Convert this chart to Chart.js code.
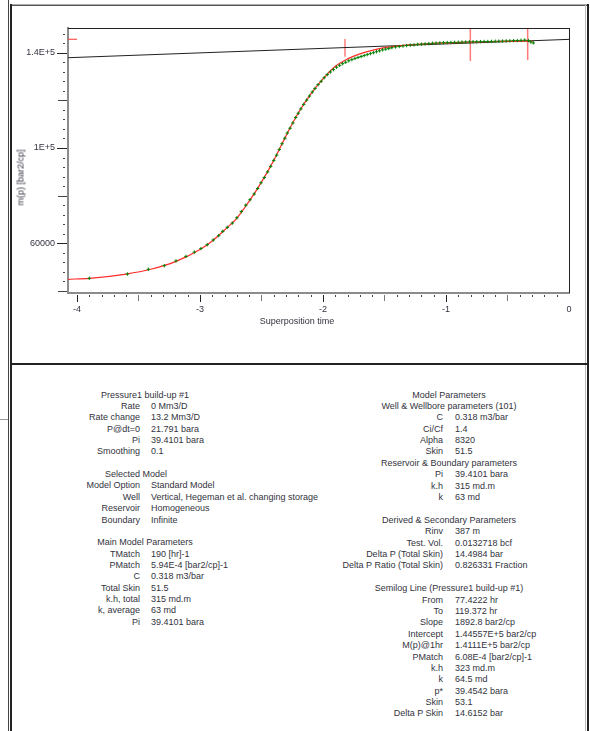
<!DOCTYPE html>
<html><head><meta charset="utf-8">
<script src="https://cdn.jsdelivr.net/npm/chart.js@4"></script>
<style>
html,body{margin:0;padding:0;background:#fff;width:590px;height:731px;overflow:hidden;font-family:"Liberation Sans",Arial,sans-serif;}
.ln{position:absolute;}
#cv{position:absolute;left:0;top:0;}
.t{position:absolute;font-size:9px;color:#333340;white-space:nowrap;line-height:11px;}
</style></head><body>
<div class="ln" style="left:8px;top:0;width:1px;height:731px;background:#444"></div>
<div class="ln" style="left:0;top:419px;width:8px;height:1px;background:#999"></div>
<div class="ln" style="left:10px;top:4px;width:579px;height:1px;background:#aaa"></div>
<div class="ln" style="left:10px;top:5px;width:579px;height:1px;background:#555"></div>
<div class="ln" style="left:10px;top:4px;width:2px;height:727px;background:#222"></div>
<div class="ln" style="left:585px;top:5px;width:1px;height:726px;background:#bbb"></div>
<div class="ln" style="left:587px;top:4px;width:2px;height:727px;background:#222"></div>
<div class="ln" style="left:10px;top:363px;width:579px;height:2px;background:#222"></div>
<canvas id="cv" width="590" height="365"></canvas>
<div id="txt"></div>
<script>
// ---- data ----
const measTime = [-3.90,-3.59,-3.42,-3.29,-3.195,-3.114,-3.046,-2.992,-2.941,-2.892,-2.848,-2.815,-2.778,-2.737,-2.70,-2.664,-2.628,-2.593,-2.559,-2.531,-2.504,-2.477,-2.450,-2.425,-2.40,-2.377,-2.355,-2.333,-2.31,-2.29,-2.268,-2.245,-2.222,-2.201,-2.18,-2.157,-2.133,-2.11,-2.087,-2.065,-2.04,-2.015,-1.99,-1.965,-1.94,-1.915,-1.89,-1.865,-1.84,-1.815,-1.79,-1.765,-1.74,-1.715,-1.69,-1.665,-1.64,-1.615,-1.59,-1.565,-1.54,-1.515,-1.49,-1.465,-1.44,-1.41,-1.38,-1.35,-1.32,-1.29,-1.26,-1.23,-1.20,-1.17,-1.14,-1.11,-1.08,-1.05,-1.02,-0.99,-0.96,-0.93,-0.90,-0.87,-0.84,-0.81,-0.78,-0.75,-0.72,-0.69,-0.66,-0.63,-0.60,-0.57,-0.54,-0.51,-0.48,-0.45,-0.42,-0.39,-0.36,-0.33,-0.31,-0.29];
const measMp = [45300,47100,49100,50600,52600,54500,56300,57800,59400,61400,63200,65000,66700,68500,70700,73300,76000,78300,80700,83000,85400,87600,90000,92300,94800,97000,99400,101800,104100,106300,108300,110500,112800,114600,116400,118300,120100,121800,123500,125000,126600,128000,129500,130800,131900,132900,133900,134700,135400,136000,136600,137100,137600,138000,138400,138800,139200,139600,140000,140400,140800,141200,141500,141800,142100,142400,142600,142800,143000,143200,143300,143500,143600,143700,143800,143950,144000,144100,144200,144250,144300,144350,144400,144450,144500,144550,144600,144600,144650,144700,144700,144750,144800,144850,144900,144950,145000,145050,145100,145200,145300,145100,144500,144100];
const modelTime = [-4.073,-3.9,-3.6,-3.4,-3.2,-3.0,-2.9,-2.8,-2.7,-2.6,-2.5,-2.4,-2.3,-2.2,-2.1,-2.0,-1.9,-1.8,-1.7,-1.6,-1.5,-1.4,-1.2,-1.0,-0.8,-0.6,-0.4,-0.29];
const modelMp = [44900,45300,47100,49100,52300,57400,61000,65600,70600,77700,85700,94800,105200,114800,122600,129000,134300,137400,139500,141000,142100,142800,143600,144100,144400,144700,144900,144800];
const semilogTime = [-4.073, 0];
const semilogMp = [137900, 145600];
const markerTime = [-1.821, -0.802, -0.336];
const markerLow = [138300, 136500, 136900];
const markerHigh = [145800, 150370, 150370];
const levelTime = [-4.073, -4.0];
const levelMp = [145650, 145650];
const xTicks = [-4, -3, -2, -1, 0];
const yTicks = [60000, 100000, 140000];
const yTickLabels = ['60000', '1E+5', '1.4E+5'];
const xRange = [-4.073, 0];
const yRange = [39140, 150370];

const FONT = '"Liberation Sans", Arial, sans-serif';
const TXT = '#333340';

const pts = (xs, ys) => xs.map((x, i) => ({x, y: ys[i]}));
const datasets = [
  {data: pts(measTime, measMp), showLine:false, pointStyle:'cross', pointRadius:1.7, borderWidth:1, borderColor:'rgb(0,128,0)', backgroundColor:'rgb(0,128,0)', order:0},
  {data: pts(modelTime, modelMp), showLine:true, pointRadius:0, borderColor:'#ff2a2a', borderWidth:1.2, cubicInterpolationMode:'monotone', order:1},
  {data: pts(semilogTime, semilogMp), showLine:true, pointRadius:0, borderColor:'#222', borderWidth:1, order:2},
  {data: pts(levelTime, levelMp), showLine:true, pointRadius:0, borderColor:'#ff3030', borderWidth:1, order:3}
];
markerTime.forEach((t, i) => datasets.push({data:[{x:t,y:markerLow[i]},{x:t,y:markerHigh[i]}], showLine:true, pointRadius:0, borderColor:'rgba(255,90,90,0.8)', borderWidth:1.5, order:3}));

const tickPlugin = {
  id:'ticks',
  afterDraw(chart){
    const c = chart.ctx, a = chart.chartArea, xs = chart.scales.x, ys = chart.scales.y;
    c.save();
    c.strokeStyle = '#222'; c.lineWidth = 1;
    c.beginPath();
    c.moveTo(a.left, a.top + 0.5); c.lineTo(a.right + 0.5, a.top + 0.5);
    c.moveTo(a.right + 0.5, a.top); c.lineTo(a.right + 0.5, a.bottom);
    c.stroke();
    for (let v = 40000; v <= 148000; v += 4000) {
      const y = Math.round(ys.getPixelForValue(v)) + 0.5;
      let x0, x1, col = '#444';
      if (yTicks.includes(v)) { x0 = a.left - 11; x1 = a.left - 1; col = '#222'; }
      else if (v % 40000 === 0) { x0 = a.left - 10; x1 = a.left - 1; }
      else { x0 = a.left - 5; x1 = a.left - 3; }
      c.strokeStyle = col; c.beginPath(); c.moveTo(x0, y); c.lineTo(x1, y); c.stroke();
    }
    for (let k = -40; k <= -1; k++) {
      const v = k / 10;
      const x = Math.round(xs.getPixelForValue(v)) + 0.5;
      let len = 2, col = '#444';
      if (k % 10 === 0) { len = 7; col = '#222'; }
      else if (k % 5 === 0) { len = 6; col = '#777'; }
      c.strokeStyle = col; c.beginPath(); c.moveTo(x, a.bottom + 2); c.lineTo(x, a.bottom + 2 + len); c.stroke();
    }
    c.restore();
  }
};

new Chart(document.getElementById('cv'), {
  type:'scatter',
  data:{datasets},
  options:{
    responsive:false, animation:false, devicePixelRatio:1,
    layout:{padding:{left:0, top:28, right:21, bottom:0}},
    plugins:{legend:{display:false}, tooltip:{enabled:false}},
    scales:{
      x:{type:'linear', min:xRange[0], max:xRange[1],
         afterFit:s=>{s.height = 72;},
         afterBuildTicks:s=>{s.ticks = xTicks.map(v=>({value:v}));},
         grid:{display:false, drawTicks:false, tickLength:0},
         border:{display:true, color:'#8c8c8c', width:2},
         ticks:{autoSkip:false, maxRotation:0, padding:11, color:TXT, font:{family:FONT, size:9}, callback:v=>String(v)}},
      y:{type:'linear', min:yRange[0], max:yRange[1],
         afterFit:s=>{s.width = 68;},
         afterBuildTicks:s=>{s.ticks = yTicks.map(v=>({value:v}));},
         grid:{display:false, drawTicks:false, tickLength:0},
         border:{display:true, color:'#8c8c8c', width:2},
         ticks:{autoSkip:false, padding:13, color:TXT, font:{family:FONT, size:9}, callback:v=>yTickLabels[yTicks.indexOf(v)]}}
    }
  },
  plugins:[tickPlugin]
});

// ---- text panels ----
const leftRows = [
  ['#H','Pressure1 build-up #1',145],
  ['Rate','0 Mm3/D'],['Rate change','13.2 Mm3/D'],['P@dt=0','21.791 bara'],['Pi','39.4101 bara'],['Smoothing','0.1'],
  null,
  ['#H','Selected Model',136],
  ['Model Option','Standard Model'],['Well','Vertical, Hegeman et al. changing storage'],['Reservoir','Homogeneous'],['Boundary','Infinite'],
  null,
  ['#H','Main Model Parameters',145],
  ['TMatch','190 [hr]-1'],['PMatch','5.94E-4 [bar2/cp]-1'],['C','0.318 m3/bar'],['Total Skin','51.5'],['k.h, total','315 md.m'],['k, average','63 md'],['Pi','39.4101 bara']
];
const rightRows = [
  ['#H','Model Parameters',449],
  ['#H','Well & Wellbore parameters (101)',449],
  ['C','0.318 m3/bar'],['Ci/Cf','1.4'],['Alpha','8320'],['Skin','51.5'],
  ['#H','Reservoir & Boundary parameters',449],
  ['Pi','39.4101 bara'],['k.h','315 md.m'],['k','63 md'],
  null,
  ['#H','Derived & Secondary Parameters',449],
  ['Rinv','387 m'],['Test. Vol.','0.0132718 bcf'],['Delta P (Total Skin)','14.4984 bar'],['Delta P Ratio (Total Skin)','0.826331 Fraction'],
  null,
  ['#H','Semilog Line (Pressure1 build-up #1)',449],
  ['From','77.4222 hr'],['To','119.372 hr'],['Slope','1892.8 bar2/cp'],['Intercept','1.44557E+5 bar2/cp'],['M(p)@1hr','1.4111E+5 bar2/cp'],
  ['PMatch','6.08E-4 [bar2/cp]-1'],['k.h','323 md.m'],['k','64.5 md'],['p*','39.4542 bara'],['Skin','53.1'],['Delta P Skin','14.6152 bar']
];
const host = document.getElementById('txt');
function addSpan(text, style){ const s=document.createElement('div'); s.className='t'; s.textContent=text; s.setAttribute('style', style); host.appendChild(s); }
function panel(rows, labelRight, valueLeft, top0, step){
  rows.forEach((r,i)=>{
    if(!r) return;
    const top = (top0 + i*step).toFixed(1);
    if(r[0]==='#H'){ addSpan(r[1], `left:${r[2]-150}px;width:300px;text-align:center;top:${top}px`); }
    else {
      addSpan(r[0], `left:${labelRight-200}px;width:200px;text-align:right;top:${top}px`);
      addSpan(r[1], `left:${valueLeft}px;top:${top}px`);
    }
  });
}
panel(leftRows, 140, 151, 389.5, 11.36);
panel(rightRows, 443, 455, 389.5, 11.39);
addSpan('Superposition time', 'left:197px;width:200px;text-align:center;top:316px');
addSpan('m(p) [bar2/cp]', 'left:-29px;width:100px;text-align:center;top:172px;transform:rotate(-90deg)');
</script>
</body></html>
